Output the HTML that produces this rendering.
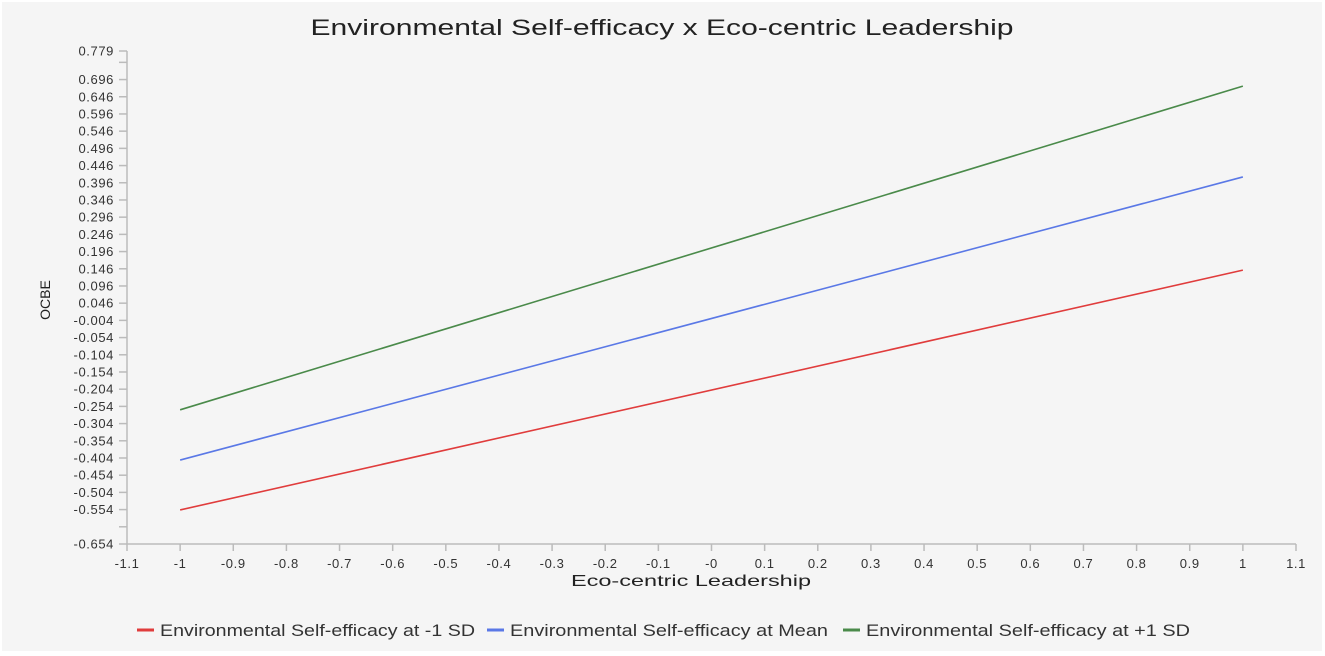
<!DOCTYPE html>
<html><head><meta charset="utf-8"><style>
html,body{margin:0;padding:0;background:#fff;width:1325px;height:656px;overflow:hidden}
svg{display:block;font-family:"Liberation Sans",sans-serif}
</style></head><body>
<svg id="chart" width="1325" height="656">
<rect x="2" y="2" width="1320" height="649" fill="#f5f5f5"/>
<text x="662" y="35" text-anchor="middle" font-size="22" fill="#222" textLength="703" lengthAdjust="spacingAndGlyphs">Environmental Self-efficacy x Eco-centric Leadership</text>
<text transform="translate(50,300) rotate(-90)" text-anchor="middle" font-size="14" fill="#222">OCBE</text>
<text x="691" y="586" text-anchor="middle" font-size="16" fill="#222" textLength="240" lengthAdjust="spacingAndGlyphs">Eco-centric Leadership</text>
<g id="axes"></g>
<g id="series"></g>
<g id="legend"></g>
</svg>
<script>
const xTicks=[-1.1,-1,-0.9,-0.8,-0.7,-0.6,-0.5,-0.4,-0.3,-0.2,-0.1,0,0.1,0.2,0.3,0.4,0.5,0.6,0.7,0.8,0.9,1,1.1];
const xTickLabels=["-1.1","-1","-0.9","-0.8","-0.7","-0.6","-0.5","-0.4","-0.3","-0.2","-0.1","-0","0.1","0.2","0.3","0.4","0.5","0.6","0.7","0.8","0.9","1","1.1"];
const yTicks=[-0.654,-0.604,-0.554,-0.504,-0.454,-0.404,-0.354,-0.304,-0.254,-0.204,-0.154,-0.104,-0.054,-0.004,0.046,0.096,0.146,0.196,0.246,0.296,0.346,0.396,0.446,0.496,0.546,0.596,0.646,0.696,0.746,0.779];
const yTickLabels=["-0.654","","-0.554","-0.504","-0.454","-0.404","-0.354","-0.304","-0.254","-0.204","-0.154","-0.104","-0.054","-0.004","0.046","0.096","0.146","0.196","0.246","0.296","0.346","0.396","0.446","0.496","0.546","0.596","0.646","0.696","","0.779"];
const xValues=[-1,1];
const seriesNames=["Environmental Self-efficacy at -1 SD","Environmental Self-efficacy at Mean","Environmental Self-efficacy at +1 SD"];
const lowSD=[-0.555,0.142];
const meanSD=[-0.410,0.413];
const highSD=[-0.264,0.677];
const seriesColors=["#e03c3c","#5a78e6","#4a8a4a"];

const NS="http://www.w3.org/2000/svg";
const X0=127,X1=1296,Y0=544,Y1=51,xmin=-1.1,xmax=1.1,ymin=-0.654,ymax=0.779;
const sx=v=>X0+(v-xmin)/(xmax-xmin)*(X1-X0);
const sy=v=>Y0-(v-ymin)/(ymax-ymin)*(Y0-Y1);
function mk(tag,attrs,parent){const e=document.createElementNS(NS,tag);for(const k in attrs)e.setAttribute(k,attrs[k]);parent.appendChild(e);return e;}
const axes=document.getElementById('axes');
let a=mk('line',{x1:X0,y1:Y1,x2:X0,y2:Y0,stroke:'#bbb','stroke-width':1.5},axes);


a=mk('line',{x1:X0,y1:Y0,x2:X1,y2:Y0,stroke:'#bbb','stroke-width':1.5},axes);


yTicks.forEach((v,i)=>{const y=sy(v);
 const t=mk('line',{x1:X0-8,y1:y,x2:X0,y2:y,stroke:'#bbb','stroke-width':1.5},axes);
 
 
 if(yTickLabels[i]){const l=mk('text',{x:X0-13,y:y+4.5,'text-anchor':'end','font-size':13,'letter-spacing':'0.6',fill:'#333'},axes);l.textContent=yTickLabels[i];
 
 }
});
xTicks.forEach((v,i)=>{const x=sx(v);
 const t=mk('line',{x1:x,y1:Y0,x2:x,y2:Y0+7,stroke:'#bbb','stroke-width':1.5},axes);
 
 
 const l=mk('text',{x:x,y:Y0+24,'text-anchor':'middle','font-size':13,'letter-spacing':'0.6',fill:'#333'},axes);l.textContent=xTickLabels[i];
 
 
});
const ser=document.getElementById('series');
[lowSD,meanSD,highSD].forEach((vals,i)=>{
 const pts=vals.map((v,j)=>sx(xValues[j])+','+sy(v)).join(' ');
 const p=mk('polyline',{points:pts,fill:'none',stroke:seriesColors[i],'stroke-width':1.6},ser);
 
 
});
const leg=document.getElementById('legend');
const legX=[137,487,843];
const legW=[315,318,324];
seriesNames.forEach((n,i)=>{
 const g=mk('g',{},leg);
 
 
 mk('line',{x1:legX[i],y1:630,x2:legX[i]+17,y2:630,stroke:seriesColors[i],'stroke-width':3},g);
 const t=mk('text',{x:legX[i]+23,y:636,'font-size':17,fill:'#333',textLength:legW[i],lengthAdjust:'spacingAndGlyphs'},g);t.textContent=n;
});
</script>
</body></html>
